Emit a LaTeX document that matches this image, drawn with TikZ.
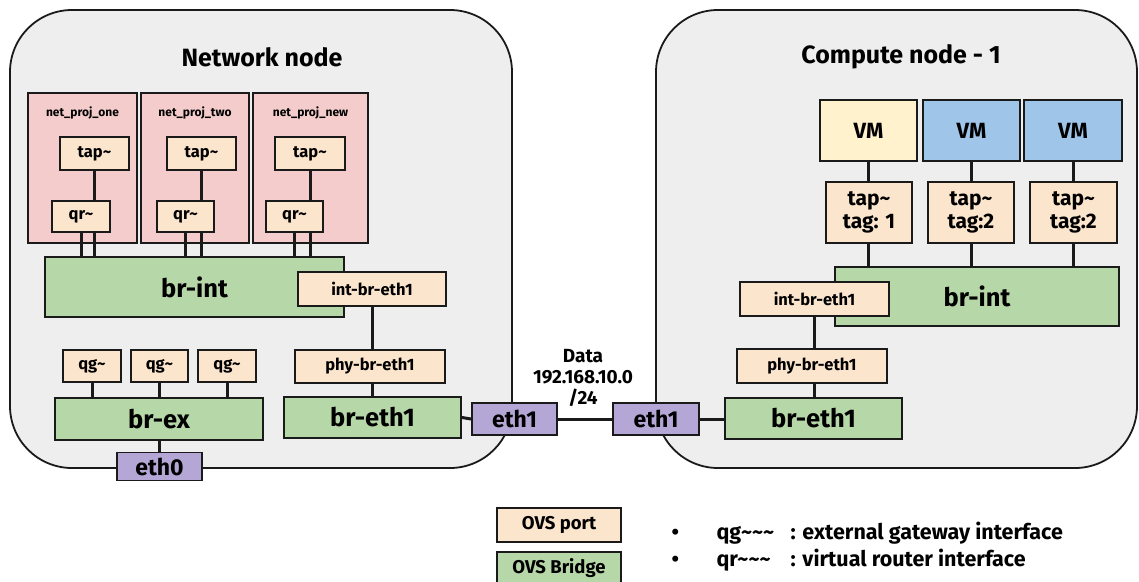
\documentclass[tikz,border=0pt]{standalone}
\usepackage{fontspec}
\setmainfont{Fira Sans}
\definecolor{portc}{HTML}{FCE5CD}
\definecolor{bridgec}{HTML}{B6D7A8}
\definecolor{ethc}{HTML}{B4A7D6}
\definecolor{projc}{HTML}{F4CCCC}
\definecolor{vmyc}{HTML}{FFF2CC}
\definecolor{vmbc}{HTML}{9FC5E8}
\definecolor{contc}{HTML}{EEEEEE}
\definecolor{linec}{HTML}{1A1A1A}
\tikzset{
  fs/.style={font=\fontsize{#1}{#1}\selectfont\bfseries},
  box/.style={draw=linec, line width=1.8pt, inner sep=0pt, align=center},
  portbox/.style={box, fill=portc, fs=16.5},
  bridgebox/.style={box, fill=bridgec, fs=25.5},
  ethbox/.style={box, fill=ethc, fs=23},
  projbox/.style={box, fill=projc},
  vmybox/.style={box, fill=vmyc, fs=22},
  vmbbox/.style={box, fill=vmbc, fs=22},
  container/.style={draw=linec, line width=1.8pt, fill=contc, rounded corners=62pt},
  conn/.style={draw=linec, line width=3pt},
  sz/.style 2 args={minimum width=#1, minimum height=#2},
}
\begin{document}
\begin{tikzpicture}[x=1pt,y=-1pt]
\useasboundingbox (0,0) rectangle (1139,581);
% containers
\draw[container] (10,10) rectangle (512,468);
\draw[container] (656,10) rectangle (1137,468);
\node[fs=25] (t1) at (262,57) {Network node};
\node[fs=25] (t2) at (901,57) {Compute node - 1};
% projects
\node[projbox, sz={109}{150}] (p1) at (82.5,168) {};
\node[projbox, sz={108}{150}] (p2) at (195,168) {};
\node[projbox, sz={115}{150}] (p3) at (310.5,168) {};
\node[fs=12] (pl1) at (82.5,113) {net\_proj\_one};
\node[fs=12] (pl2) at (195,113) {net\_proj\_two};
\node[fs=12] (pl3) at (310.5,113) {net\_proj\_new};
\node[portbox, sz={69}{33}] (tap1) at (94.5,153.5) {tap\textasciitilde};
\node[portbox, sz={69}{33}] (tap2) at (201.5,153.5) {tap\textasciitilde};
\node[portbox, sz={70}{33}] (tap3) at (310,153.5) {tap\textasciitilde};
\node[portbox, sz={58}{31}] (qr1) at (81,216.5) {qr\textasciitilde};
\node[portbox, sz={57}{31}] (qr2) at (185.5,216.5) {qr\textasciitilde};
\node[portbox, sz={57}{31}] (qr3) at (294.5,216.5) {qr\textasciitilde};
% network node bridges
\node[bridgebox, sz={299}{60}] (brintL) at (194.5,287) {br-int};
\node[portbox, sz={148}{34}] (intL) at (372,289) {int-br-eth1};
\node[portbox, sz={150}{33}] (phyL) at (370,366.5) {phy-br-eth1};
\node[bridgebox, sz={177}{41}] (brethL) at (372.5,417.5) {br-eth1};
\node[portbox, sz={58}{32}] (qg1) at (92,366) {qg\textasciitilde};
\node[portbox, sz={57}{32}] (qg2) at (159.5,366) {qg\textasciitilde};
\node[portbox, sz={58}{32}] (qg3) at (227,366) {qg\textasciitilde};
\node[bridgebox, sz={208}{42}] (brex) at (159,419) {br-ex};
\node[ethbox, sz={85}{28}] (eth0) at (159.5,466.5) {eth0};
\node[ethbox, sz={85}{32}] (eth1L) at (514.5,419) {eth1};
\node[ethbox, sz={86}{32}] (eth1R) at (656,419) {eth1};
% compute node
\node[vmybox, sz={97}{61}] (vm1) at (868.5,130.5) {VM};
\node[vmbbox, sz={97}{61}] (vm2) at (971.5,130.5) {VM};
\node[vmbbox, sz={98}{61}] (vm3) at (1073,130.5) {VM};
\node[portbox, fs=21, sz={86}{61}] (tr1) at (869,212.5) {tap\textasciitilde\\[2pt]tag: 1};
\node[portbox, fs=21, sz={86}{61}] (tr2) at (971,212.5) {tap\textasciitilde\\[2pt]tag:2};
\node[portbox, fs=21, sz={87}{61}] (tr3) at (1073.5,212.5) {tap\textasciitilde\\[2pt]tag:2};
\node[bridgebox, sz={284}{59}] (brintR) at (977,296.5) {br-int};
\node[portbox, sz={149}{34}] (intR) at (814.5,299) {int-br-eth1};
\node[portbox, sz={150}{34}] (phyR) at (812,366) {phy-br-eth1};
\node[bridgebox, sz={177}{41}] (brethR) at (813.5,418.5) {br-eth1};
% data label
\node[fs=19, align=center] (data) at (583,378) {Data\\[2pt]192.168.10.0\\[2pt]/24};
% connectors
\draw[conn] (tap1.south) -- (tap1.south |- qr1.north);
\draw[conn] (tap2.south) -- (tap2.south |- qr2.north);
\draw[conn] (tap3.south) -- (tap3.south |- qr3.north);
\draw[conn] (qr1.south) -- (qr1.south |- brintL.north);
\draw[conn] (tap1.south |- qr1.south) -- (tap1.south |- brintL.north);
\draw[conn] (qr2.south) -- (qr2.south |- brintL.north);
\draw[conn] (tap2.south |- qr2.south) -- (tap2.south |- brintL.north);
\draw[conn] (qr3.south) -- (qr3.south |- brintL.north);
\draw[conn] (tap3.south |- qr3.south) -- (tap3.south |- brintL.north);
\draw[conn] (intL.south -| brethL.north) -- (phyL.north -| brethL.north);
\draw[conn] (phyL.south -| brethL.north) -- (brethL.north);
\draw[conn] (qg1.south) -- (qg1.south |- brex.north);
\draw[conn] (qg2.south) -- (qg2.south |- brex.north);
\draw[conn] (qg3.south) -- (qg3.south |- brex.north);
\draw[conn] (brex.south -| eth0.north) -- (eth0.north);
\draw[conn] (brethL.east) -- (eth1L.west);
\draw[conn] (eth1L.east) -- (eth1R.west);
\draw[conn] (eth1R.east) -- (eth1R.east -| brethR.west);
\draw[conn] (vm1.south) -- (vm1.south |- tr1.north);
\draw[conn] (vm2.south) -- (vm2.south |- tr2.north);
\draw[conn] (vm3.south) -- (vm3.south |- tr3.north);
\draw[conn] (vm1.south |- tr1.south) -- (vm1.south |- brintR.north);
\draw[conn] (vm2.south |- tr2.south) -- (vm2.south |- brintR.north);
\draw[conn] (vm3.south |- tr3.south) -- (vm3.south |- brintR.north);
\draw[conn] (intR.south) -- (intR.south |- phyR.north);
\draw[conn] (phyR.south -| intR.south) -- (brethR.north -| intR.south);
% legend
\node[portbox, fs=18.5, sz={124}{34}] (lgport) at (559,525) {OVS port};
\node[bridgebox, fs=18.5, sz={124}{32}] (lgbr) at (559,568) {OVS Bridge};
\node[fs=21.5, anchor=west] (li1) at (668,533) {\makebox[45pt][l]{\textbullet}\makebox[74pt][l]{qg\textasciitilde\textasciitilde\textasciitilde}: external gateway interface};
\node[fs=21.5, anchor=west] (li2) at (668,560) {\makebox[45pt][l]{\textbullet}\makebox[74pt][l]{qr\textasciitilde\textasciitilde\textasciitilde}: virtual router interface};
\end{tikzpicture}
\end{document}
